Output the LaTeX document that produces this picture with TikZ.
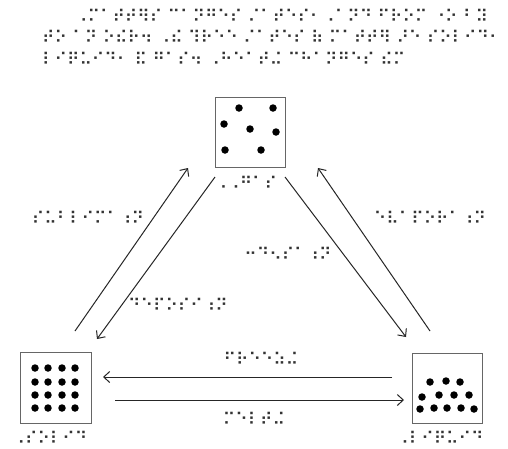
\documentclass[tikz,border=0pt]{standalone}
\usepackage{fontspec}
\newfontfamily\brl{DejaVu Sans}
\usetikzlibrary{arrows.meta}
\begin{document}
\begin{tikzpicture}[x=1pt,y=-1pt,
  box/.style={draw=black!60, line width=0.9pt, minimum size=70pt, inner sep=0pt, fill=white},
  dot/.style={circle, fill=black, inner sep=0pt, minimum size=7.5pt},
  lbl/.style={font=\brl\fontsize{17}{20}\selectfont, inner sep=0pt, text=black!80},
  arr/.style={draw=black!85, line width=1pt, -{Straight Barb[length=6pt, width=11pt, line width=1pt]}},
]
\useasboundingbox[fill=white] (0,0) rectangle (508,448);

% title
\node[lbl, anchor=west] (t1) at (75,16) {⠠⠍⠁⠞⠞⠻⠎ ⠉⠁⠝⠛⠑⠎ ⠌⠁⠞⠑⠎⠂⠠⠁⠝⠙ ⠋⠗⠕⠍ ⠐⠕ ⠃⠽};
\node[lbl, anchor=west] (t2) at (42,37) {⠞⠕ ⠁⠝ ⠕⠮⠗⠲ ⠠⠮ ⠹⠗⠑⠑ ⠌⠁⠞⠑⠎ ⠷ ⠍⠁⠞⠞⠻ ⠜⠑ ⠎⠕⠇⠊⠙⠂};
\node[lbl, anchor=west] (t3) at (42,59) {⠇⠊⠟⠥⠊⠙⠂ ⠯ ⠛⠁⠎⠲ ⠠⠓⠑⠁⠞⠬ ⠉⠓⠁⠝⠛⠑⠎ ⠮⠍};

% boxes
\node[box] (gas) at (250,132) {};
\node[box, minimum size=71pt] (solid) at (55.5,387.5) {};
\node[box] (liquid) at (447.5,388) {};

% gas dots
\foreach \x/\y [count=\i] in {239/108,273/108,224/124,250/129,276/132,225/150,261/150}
  \node[dot] (g\i) at (\x,\y) {};
% solid dots
\foreach \y [count=\j] in {368,382,395,408}
  \foreach \x [count=\i] in {35,48,62,75}
    \node[dot] (s\j\i) at (\x,\y) {};
% liquid dots
\foreach \x/\y [count=\i] in {430/382,446/381,460/382,422/397,439/395,454/395,469/395,420/409,434/408,447/408,461/408,474/409}
  \node[dot] (l\i) at (\x,\y) {};

% labels
\node[lbl] (lgas) at (246,183) {⠠⠠⠛⠁⠎};
\node[lbl] (lsolid) at (50,438) {⠠⠎⠕⠇⠊⠙};
\node[lbl] (lliquid) at (440,438) {⠠⠇⠊⠟⠥⠊⠙};
\node[lbl] (lsub) at (88,218) {⠎⠥⠃⠇⠊⠍⠁⠰⠝};
\node[lbl] (levap) at (430,218) {⠑⠧⠁⠏⠕⠗⠁⠰⠝};
\node[lbl] (lcond) at (288,254) {⠒⠙⠢⠎⠁⠰⠝};
\node[lbl] (ldep) at (178,305) {⠙⠑⠏⠕⠎⠊⠰⠝};
\node[lbl] (lfrz) at (261,359) {⠋⠗⠑⠑⠵⠬};
\node[lbl] (lmelt) at (254,419) {⠍⠑⠇⠞⠬};

% arrow endpoints
\coordinate (a1) at (75,331);  \coordinate (b1) at (188,168);
\coordinate (a2) at (215,177); \coordinate (b2) at (97,339);
\coordinate (a3) at (285,177); \coordinate (b3) at (406,337);
\coordinate (a4) at (430,331); \coordinate (b4) at (318,168);
\coordinate (a5) at (392,377); \coordinate (b5) at (103,377);
\coordinate (a6) at (115,400); \coordinate (b6) at (404,400);

\draw[arr] (a1) -- (b1);
\draw[arr] (a2) -- (b2);
\draw[arr] (a3) -- (b3);
\draw[arr] (a4) -- (b4);
\draw[arr] (a5) -- (b5);
\draw[arr] (a6) -- (b6);
\end{tikzpicture}
\end{document}
